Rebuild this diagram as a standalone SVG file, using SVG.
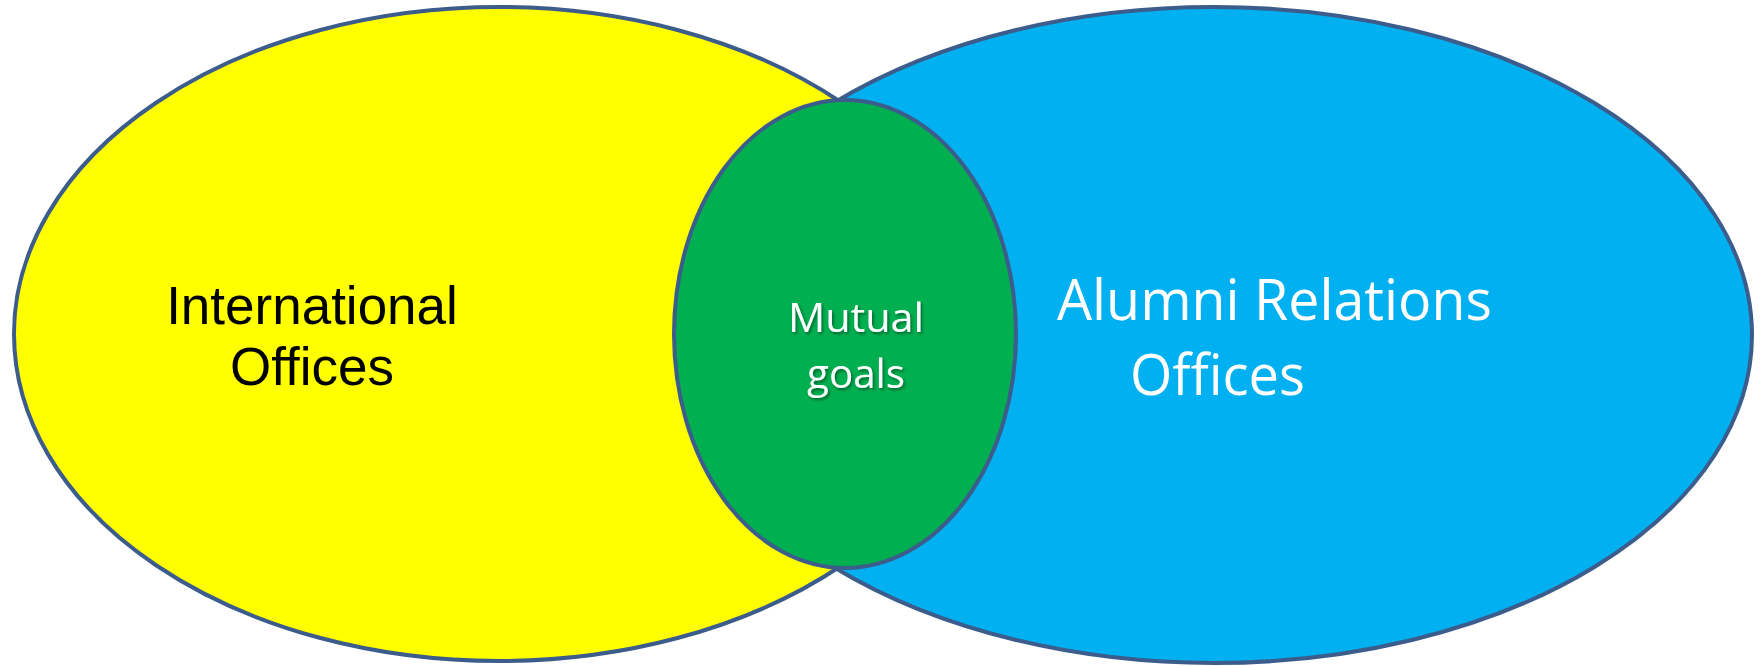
<svg xmlns="http://www.w3.org/2000/svg" width="1763" height="666" viewBox="0 0 1763 666">
<defs>
<filter id="sh" x="-20%" y="-20%" width="140%" height="140%">
<feDropShadow dx="1.5" dy="2" stdDeviation="1.5" flood-color="#000" flood-opacity="0.45"/>
</filter>
</defs>
<style>
.circ{stroke:#3C5D8C;stroke-width:4}
.dark{font-family:"Liberation Sans",Arial,sans-serif;font-size:53px;fill:#000}
.light{font-family:"Open Sans","Noto Sans",sans-serif;fill:#fff}
</style>
<rect width="1763" height="666" fill="#fff"/>
<g id="international">
<ellipse class="circ" cx="499" cy="334" rx="485" ry="327" fill="#FFFF00"/>
<text class="dark" text-anchor="middle" x="312" y="324">International</text>
<text class="dark" text-anchor="middle" x="312" y="385">Offices</text>
</g>
<g id="alumni">
<ellipse class="circ" cx="1214" cy="335" rx="538" ry="328" fill="#00B0F0"/>
<text class="light" x="1057" y="320" font-size="56" textLength="435" lengthAdjust="spacingAndGlyphs">Alumni Relations</text>
<text class="light" x="1130" y="395" font-size="56" textLength="175" lengthAdjust="spacingAndGlyphs">Offices</text>
</g>
<g id="mutual">
<ellipse class="circ" cx="845" cy="334" rx="171" ry="234" fill="#00B050"/>
<g filter="url(#sh)">
<text class="light" x="788" y="332" font-size="40" textLength="136" lengthAdjust="spacingAndGlyphs">Mutual</text>
<text class="light" x="807" y="388" font-size="40" textLength="98" lengthAdjust="spacingAndGlyphs">goals</text>
</g>
</g>
<g id="connectors"/>
</svg>
